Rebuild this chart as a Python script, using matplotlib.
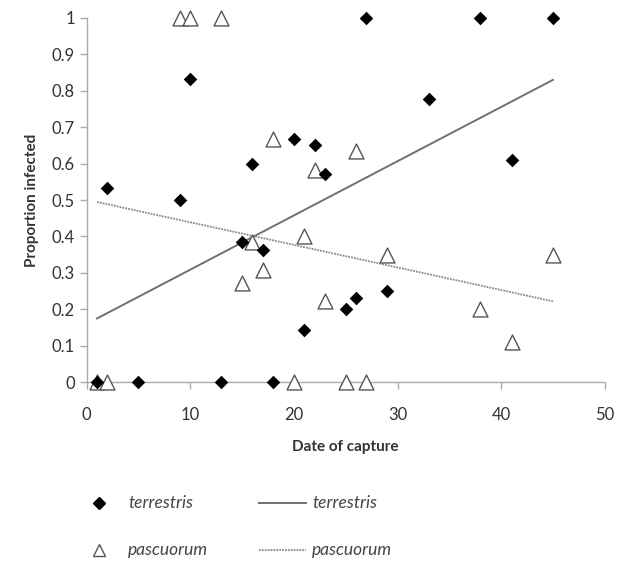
import matplotlib
import numpy as np

matplotlib.use("Agg")
import matplotlib.pyplot as plt  # noqa: E402
from matplotlib.lines import Line2D  # noqa: E402

plt.rcParams["font.family"] = ["Lato", "DejaVu Sans"]

# terrestris: date of capture vs proportion infected
terr_x = [1, 2, 5, 9, 10, 13, 15, 16, 17, 18, 20, 21, 22, 23, 25, 26, 27, 29, 33, 38, 41, 45]
terr_y = [0, 0.533, 0, 0.5, 0.833, 0, 0.385, 0.6, 0.364, 0, 0.667, 0.143, 0.65, 0.571,
          0.2, 0.231, 1, 0.25, 0.778, 1, 0.611, 1]
# pascuorum
pasc_x = [1, 2, 9, 10, 13, 15, 16, 17, 18, 20, 21, 22, 23, 25, 26, 27, 29, 38, 41, 45]
pasc_y = [0, 0, 1, 1, 1, 0.273, 0.385, 0.308, 0.667, 0, 0.4, 0.583, 0.222, 0,
          0.636, 0, 0.35, 0.2, 0.111, 0.35]
# linear trend lines as drawn (intercept, slope) over x = 1..45
terr_fit = (0.160, 0.01489)
pasc_fit = (0.501, -0.00620)
fit_x = [1, 45]

fig = plt.figure(figsize=(6.28, 5.62), dpi=100)
ax = fig.add_axes([0.138, 0.320, 0.825, 0.648])

lc = "#707070"
fx = np.array(fit_x)
ax.plot(fx, terr_fit[0] + terr_fit[1] * fx, color=lc, lw=1.4, zorder=2)
ax.plot(fx, pasc_fit[0] + pasc_fit[1] * fx, color="#8a8a8a", lw=1.3, ls=(0, (1, 0.6)), zorder=2)

ax.scatter(pasc_x, pasc_y, marker="^", s=115, facecolor="white", edgecolor="#555555",
           linewidths=1.0, zorder=3)
ax.scatter(terr_x, terr_y, marker="D", s=48, color="black", linewidths=0, zorder=4)

ax.set_xlim(0, 50)
ax.set_ylim(0, 1)
ax.set_xticks(range(0, 51, 10))
ax.set_yticks(np.round(np.arange(0, 1.01, 0.1), 1))
ax.set_yticklabels(["0"] + [f"{v:.1f}" for v in np.arange(0.1, 0.95, 0.1)] + ["1"])
ax.tick_params(axis="both", colors="#aaaaaa", labelcolor="#333333", labelsize=12,
               length=5, width=1)
ax.tick_params(axis="x", pad=13)
for sp in ["top", "right"]:
    ax.spines[sp].set_visible(False)
for sp in ["left", "bottom"]:
    ax.spines[sp].set_color("#aaaaaa")
    ax.spines[sp].set_linewidth(1.0)
for coll in ax.collections:
    coll.set_clip_on(False)

ax.set_xlabel("Date of capture", fontsize=11, fontweight="bold", color="#333333", labelpad=12)
ax.set_ylabel("Proportion infected", fontsize=11, fontweight="bold", color="#333333", labelpad=9)

# legend below the plot
fig.add_artist(Line2D([99 / 628], [1 - 503 / 562], marker="D", markersize=6.5, color="black",
                      linestyle="", transform=fig.transFigure))
fig.add_artist(Line2D([99 / 628], [1 - 550 / 562], marker="^", markersize=8,
                      markerfacecolor="white", markeredgecolor="#555555", linestyle="",
                      transform=fig.transFigure))
fig.add_artist(Line2D([259 / 628, 306 / 628], [1 - 503 / 562] * 2, color=lc, lw=1.4,
                      transform=fig.transFigure))
fig.add_artist(Line2D([259 / 628, 306 / 628], [1 - 550 / 562] * 2, color="#8a8a8a", lw=1.3,
                      ls=(0, (1, 0.6)), transform=fig.transFigure))
for x0, y0, txt in [(128, 503, "terrestris"), (312, 503, "terrestris"),
                    (128, 550, "pascuorum"), (312, 550, "pascuorum")]:
    fig.text(x0 / 628, 1 - y0 / 562, txt, style="italic", fontsize=12.5, color="#444444",
             va="center", ha="left")

fig.savefig("out.png", dpi=100)
